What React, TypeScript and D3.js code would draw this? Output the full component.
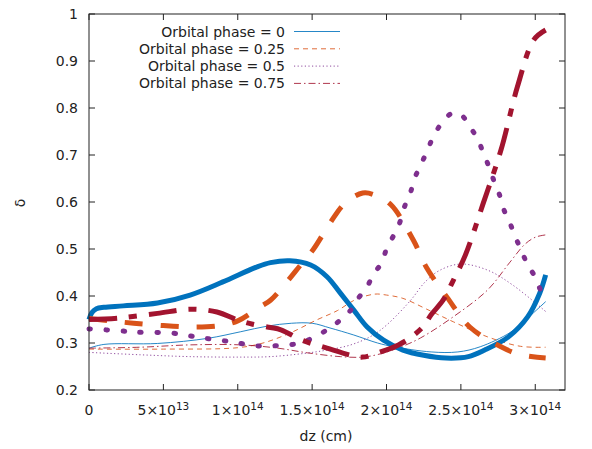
import React from "react";
import * as d3 from "d3";

// x in units of 1e14 cm, y = delta
const phase0Thick: [number, number][] = [[0,0.35],[0.02,0.365],[0.05,0.373],[0.1,0.376],[0.23,0.379],[0.46,0.385],[0.68,0.402],[0.9,0.43],[1.13,0.462],[1.22,0.471],[1.35,0.475],[1.49,0.466],[1.6,0.441],[1.69,0.406],[1.78,0.37],[1.87,0.334],[1.98,0.306],[2.11,0.285],[2.25,0.274],[2.4,0.268],[2.55,0.271],[2.66,0.285],[2.82,0.313],[2.95,0.356],[3.03,0.406],[3.07,0.445]];
const phase025Thick: [number, number][] = [[0,0.352],[0.15,0.347],[0.3,0.342],[0.5,0.337],[0.7,0.334],[0.88,0.337],[1.0,0.347],[1.15,0.377],[1.22,0.391],[1.33,0.43],[1.42,0.465],[1.51,0.5],[1.62,0.555],[1.72,0.597],[1.84,0.619],[1.92,0.615],[2.03,0.594],[2.18,0.519],[2.27,0.46],[2.41,0.396],[2.56,0.334],[2.77,0.292],[2.9,0.275],[3.07,0.268]];
const phase05Thick: [number, number][] = [[0,0.33],[0.21,0.326],[0.32,0.323],[0.56,0.321],[0.68,0.315],[0.78,0.31],[0.9,0.305],[1.0,0.3],[1.12,0.294],[1.23,0.294],[1.35,0.296],[1.44,0.302],[1.54,0.317],[1.62,0.332],[1.69,0.349],[1.76,0.37],[1.81,0.395],[1.87,0.42],[1.91,0.445],[1.97,0.472],[2.0,0.5],[2.05,0.53],[2.09,0.557],[2.12,0.589],[2.16,0.619],[2.19,0.651],[2.23,0.679],[2.27,0.706],[2.31,0.736],[2.36,0.763],[2.42,0.785],[2.46,0.79],[2.51,0.783],[2.56,0.76],[2.61,0.736],[2.65,0.705],[2.69,0.674],[2.72,0.647],[2.76,0.615],[2.79,0.583],[2.83,0.555],[2.87,0.523],[2.91,0.494],[2.95,0.466],[3.0,0.44],[3.035,0.413],[3.06,0.4]];
const phase075Thick: [number, number][] = [[0,0.35],[0.2,0.353],[0.46,0.363],[0.68,0.372],[0.86,0.366],[1.0,0.349],[1.1,0.34],[1.22,0.333],[1.29,0.328],[1.44,0.305],[1.6,0.289],[1.76,0.274],[1.84,0.27],[1.96,0.281],[2.08,0.296],[2.16,0.311],[2.25,0.336],[2.3,0.36],[2.38,0.391],[2.45,0.434],[2.53,0.487],[2.65,0.597],[2.77,0.711],[2.88,0.845],[2.99,0.945],[3.07,0.966]];
const phase0Thin: [number, number][] = [[0,0.289],[0.1,0.297],[0.46,0.299],[0.8,0.31],[1.02,0.324],[1.2,0.336],[1.36,0.342],[1.5,0.342],[1.62,0.332],[1.78,0.317],[1.94,0.3],[2.05,0.292],[2.3,0.281],[2.48,0.281],[2.63,0.292],[2.83,0.322],[2.92,0.345],[3.07,0.388]];
const phase025Thin: [number, number][] = [[0,0.287],[0.5,0.287],[1.0,0.29],[1.17,0.3],[1.35,0.321],[1.53,0.349],[1.67,0.369],[1.79,0.392],[1.92,0.404],[2.0,0.402],[2.11,0.395],[2.27,0.372],[2.45,0.345],[2.68,0.313],[2.9,0.293],[3.07,0.291]];
const phase05Thin: [number, number][] = [[0,0.28],[0.34,0.275],[0.68,0.271],[1.02,0.27],[1.22,0.271],[1.45,0.278],[1.6,0.285],[1.76,0.296],[1.9,0.315],[2.0,0.338],[2.16,0.39],[2.26,0.43],[2.36,0.455],[2.5,0.468],[2.68,0.455],[2.85,0.423],[3.07,0.367]];
const phase075Thin: [number, number][] = [[0,0.289],[0.34,0.291],[0.68,0.296],[1.02,0.296],[1.27,0.289],[1.47,0.279],[1.69,0.271],[1.84,0.27],[1.96,0.277],[2.1,0.292],[2.23,0.311],[2.45,0.356],[2.68,0.413],[2.83,0.472],[2.93,0.51],[3.0,0.525],[3.07,0.53]];

const legendLabels = ["Orbital phase = 0", "Orbital phase = 0.25", "Orbital phase = 0.5", "Orbital phase = 0.75"];
const xTicks = [0, 0.5, 1, 1.5, 2, 2.5, 3];
const xTickMantissa = ["0", "5", "1", "1.5", "2", "2.5", "3"];
const xTickExp = ["", "13", "14", "14", "14", "14", "14"];
const yTicks = [0.2, 0.3, 0.4, 0.5, 0.6, 0.7, 0.8, 0.9, 1];

const colors = ["#0072bd", "#d95319", "#7e2f8e", "#a2142f"];
const thickDash = [null, "18 18", "1.5 15.5", "28 12 8 12"];
const thinDash = [null, "5 4", "1.2 2.4", "7 3 1.5 3"];

export default function App() {
  const W = 592, H = 449;
  const left = 89, right = 565, top = 14, bottom = 390;
  const x = d3.scaleLinear().domain([0, 3.2e14]).range([left, right]);
  const y = d3.scaleLinear().domain([0.2, 1]).range([bottom, top]);
  const line = d3.line<[number, number]>().x(d => x(d[0] * 1e14)).y(d => y(d[1])).curve(d3.curveCatmullRom.alpha(0.5));
  const thick = [phase0Thick, phase025Thick, phase05Thick, phase075Thick];
  const thin = [phase0Thin, phase025Thin, phase05Thin, phase075Thin];
  const font = "'DejaVu Sans', sans-serif";
  const tl = 6;
  const fs = 14;
  return (
    <svg width={W} height={H} style={{ position: "absolute", left: 0, top: 0 }} fontFamily={font}>
      <rect width={W} height={H} fill="#fff" />
      {thin.map((s, i) => (
        <path key={"t" + i} d={line(s) || ""} fill="none" stroke={colors[i]} strokeWidth={1} strokeOpacity={0.85}
          strokeDasharray={thinDash[i] || undefined} />
      ))}
      {thick.map((s, i) => (
        <path key={"T" + i} d={line(s) || ""} fill="none" stroke={colors[i]} strokeWidth={5}
          strokeDasharray={thickDash[i] || undefined} strokeLinecap={i === 2 ? "round" : "butt"} />
      ))}
      <rect x={left} y={top} width={right - left} height={bottom - top} fill="none" stroke="#222" strokeWidth={1} />
      {xTicks.map((t, i) => (
        <g key={"xt" + i}>
          <line x1={x(t * 1e14)} x2={x(t * 1e14)} y1={bottom} y2={bottom - tl} stroke="#222" />
          <line x1={x(t * 1e14)} x2={x(t * 1e14)} y1={top} y2={top + tl} stroke="#222" />
          <text x={x(t * 1e14)} y={415} textAnchor="middle" fontSize={fs} fill="#222">
            {xTickExp[i] ? (
              <>
                <tspan>{xTickMantissa[i]}×10</tspan>
                <tspan fontSize={10.5} dy={-5}>{xTickExp[i]}</tspan>
              </>
            ) : xTickMantissa[i]}
          </text>
        </g>
      ))}
      {yTicks.map((t, i) => (
        <g key={"yt" + i}>
          <line x1={left} x2={left + tl} y1={y(t)} y2={y(t)} stroke="#222" />
          <line x1={right} x2={right - tl} y1={y(t)} y2={y(t)} stroke="#222" />
          <text x={78} y={y(t) + 5} textAnchor="end" fontSize={fs} fill="#222">{String(t)}</text>
        </g>
      ))}
      <text transform="translate(25,203) rotate(-90)" textAnchor="middle" fontSize={fs} fill="#222">δ</text>
      <text x={326} y={441} textAnchor="middle" fontSize={fs} fill="#222">dz (cm)</text>
      {legendLabels.map((lab, i) => {
        const ly = 31.5 + i * 17.3;
        return (
          <g key={"lg" + i}>
            <text x={285} y={ly + 5} textAnchor="end" fontSize={fs} fill="#222">{lab}</text>
            <line x1={294} x2={340} y1={ly} y2={ly} stroke={colors[i]} strokeWidth={1} strokeOpacity={0.85}
              strokeDasharray={thinDash[i] || undefined} />
          </g>
        );
      })}
    </svg>
  );
}
